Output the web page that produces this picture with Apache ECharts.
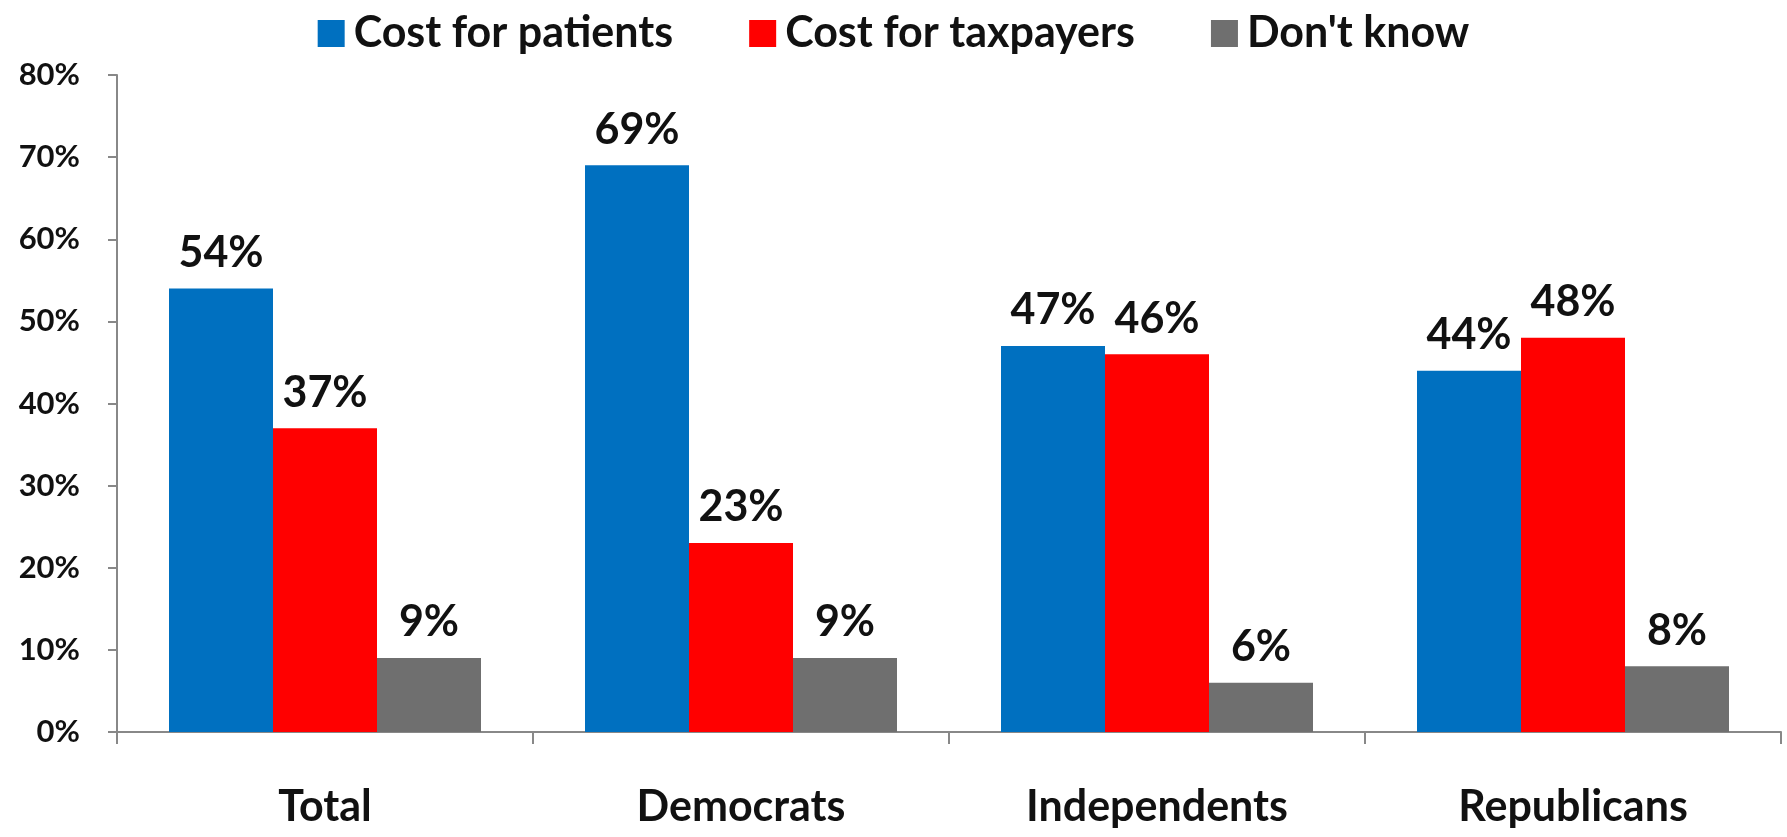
<!DOCTYPE html>
<html><head><meta charset="utf-8">
<script src="https://cdn.jsdelivr.net/npm/echarts@6/dist/echarts.min.js"></script>
<style>html,body{margin:0;padding:0;background:#fff}#c{width:1787px;height:837px}</style>
</head><body><div id="c"></div>
<script>
const categories = ['Total', 'Democrats', 'Independents', 'Republicans'];
const seriesNames = ['Cost for patients', 'Cost for taxpayers', "Don't know"];
const patients = [54, 69, 47, 44];
const taxpayers = [37, 23, 46, 48];
const dontKnow = [9, 9, 6, 8];
const yTicks = [0, 10, 20, 30, 40, 50, 60, 70, 80];
const colors = ['#0070C0', '#FF0000', '#6F6F6F'];
const FONT = 'Lato';

const chart = echarts.init(document.getElementById('c'));
const mk = (name, data, color) => ({
  name, type: 'bar', data, barGap: '0%', barCategoryGap: '25%',
  itemStyle: { color },
  label: { show: true, position: 'top', distance: 14, formatter: '{c}%',
    fontFamily: FONT, fontWeight: 'bold', fontSize: 43, color: '#111' }
});
chart.setOption({
  animation: false,
  legend: { top: 7, left: 'center', itemWidth: 27, itemHeight: 27, itemGap: 76,
    icon: 'rect',
    textStyle: { fontFamily: FONT, fontWeight: 'bold', fontSize: 43, color: '#111', padding: [0, 0, 0, 4] } },
  grid: { left: 117, right: 6, top: 75, bottom: 105 },
  xAxis: { type: 'category', data: categories,
    axisLine: { lineStyle: { color: '#888', width: 2 } },
    axisTick: { show: true, length: 12, lineStyle: { color: '#888', width: 2 } },
    axisLabel: { margin: 54, fontFamily: FONT, fontWeight: 'bold', fontSize: 43, color: '#111' } },
  yAxis: { type: 'value', min: yTicks[0], max: yTicks[yTicks.length - 1], interval: 10,
    splitLine: { show: false },
    axisLine: { show: true, lineStyle: { color: '#888', width: 2 } },
    axisTick: { show: true, length: 9, lineStyle: { color: '#888', width: 2 } },
    axisLabel: { formatter: '{value}%', margin: 37, fontFamily: FONT, fontWeight: 'bold', fontSize: 31, color: '#111' } },
  series: [mk(seriesNames[0], patients, colors[0]), mk(seriesNames[1], taxpayers, colors[1]), mk(seriesNames[2], dontKnow, colors[2])]
});
</script></body></html>
